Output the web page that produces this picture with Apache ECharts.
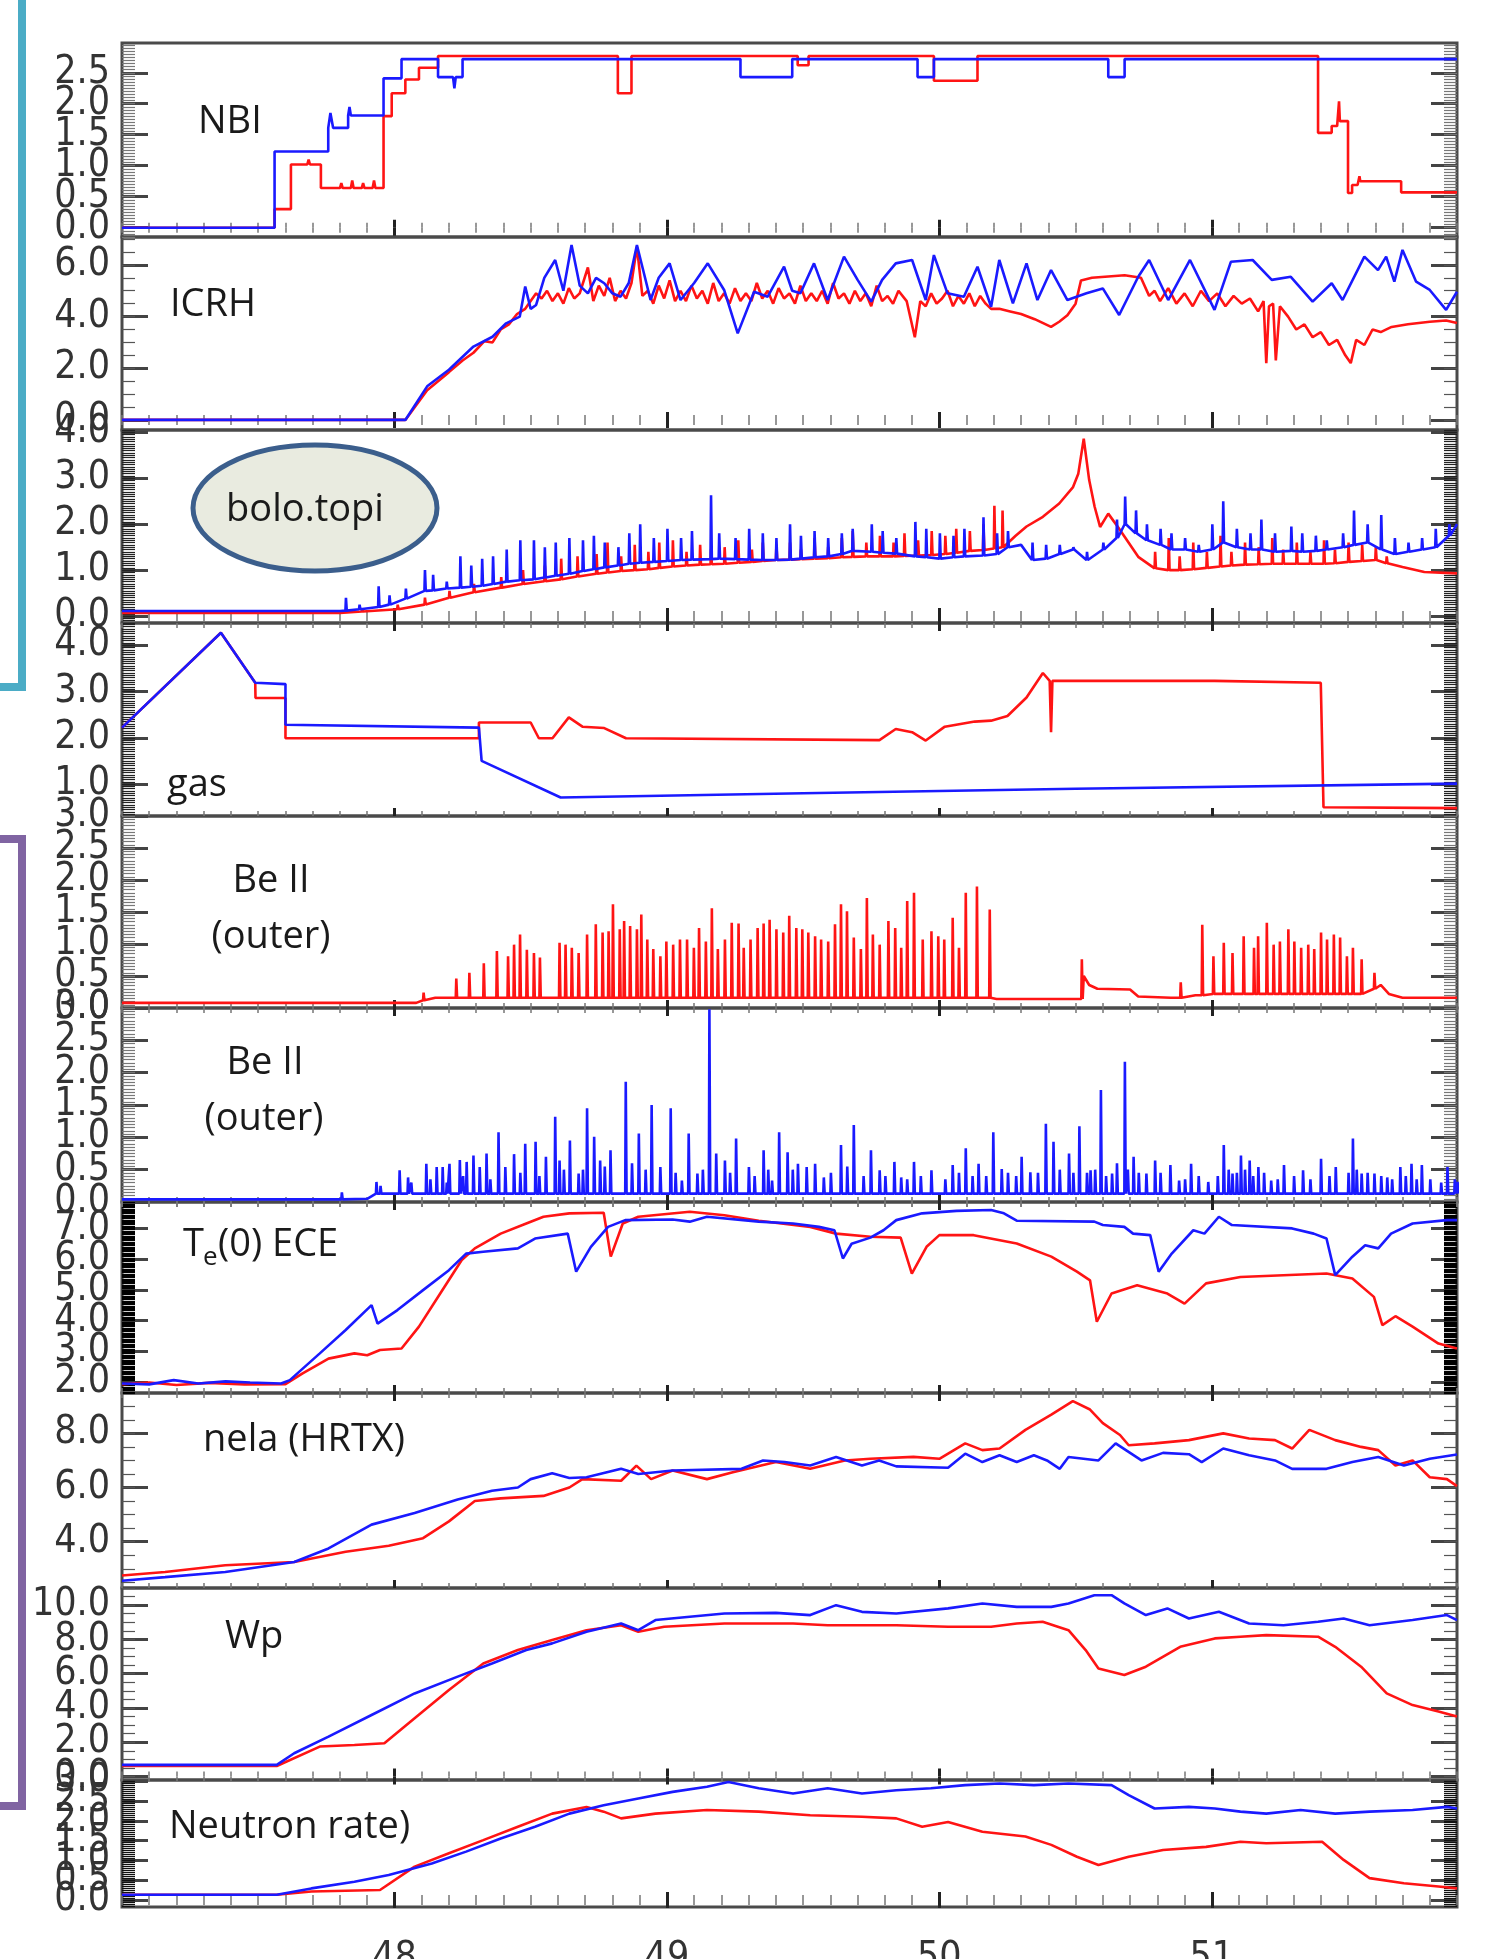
<!DOCTYPE html>
<html>
<head>
<meta charset="UTF-8">
<title>Discharge traces</title>
<script src="https://cdn.jsdelivr.net/npm/echarts@6/dist/echarts.min.js"></script>
<style>html,body{margin:0;padding:0;background:#fff;overflow:hidden;}</style>
</head>
<body>
<!-- drawn a bit taller than the window so the time labels get cut at the bottom edge -->
<div id="main" style="width:1492px;height:2000px;"></div>
<script>
// time axis (s)
var tMin = 47.0, tMax = 51.9;
var timeTicks = [48, 49, 50, 51];

// NBI power
var nbiRed = [[47.0,0],[47.56,0],[47.56,0.30],[47.62,0.30],[47.62,1.02],[47.68,1.02],[47.685,1.10],[47.69,1.02],[47.73,1.02],[47.73,0.64],[47.80,0.64],[47.805,0.72],[47.81,0.64],[47.84,0.64],[47.845,0.76],[47.85,0.64],[47.88,0.64],[47.885,0.72],[47.89,0.64],[47.92,0.64],[47.925,0.76],[47.93,0.64],[47.96,0.64],[47.96,1.80],[47.99,1.80],[47.99,2.17],[48.04,2.17],[48.04,2.39],[48.09,2.39],[48.09,2.58],[48.16,2.58],[48.16,2.77],[48.82,2.77],[48.82,2.17],[48.87,2.17],[48.87,2.77],[49.48,2.77],[49.48,2.62],[49.52,2.62],[49.52,2.77],[49.98,2.77],[49.98,2.37],[50.14,2.37],[50.14,2.77],[51.39,2.77],[51.39,1.53],[51.44,1.53],[51.44,1.64],[51.46,1.64],[51.467,2.04],[51.47,1.72],[51.50,1.72],[51.50,0.56],[51.515,0.56],[51.515,0.69],[51.535,0.69],[51.542,0.83],[51.545,0.75],[51.695,0.75],[51.695,0.57],[51.9,0.57]];
var nbiBlue = [[47.0,0],[47.56,0],[47.56,1.23],[47.757,1.23],[47.757,1.61],[47.765,1.85],[47.775,1.61],[47.83,1.61],[47.83,1.81],[47.835,1.95],[47.84,1.81],[47.96,1.81],[47.96,2.41],[48.026,2.41],[48.026,2.72],[48.16,2.72],[48.16,2.43],[48.215,2.43],[48.22,2.25],[48.225,2.43],[48.25,2.43],[48.25,2.72],[49.27,2.72],[49.27,2.43],[49.46,2.43],[49.46,2.72],[49.92,2.72],[49.92,2.43],[49.98,2.43],[49.98,2.72],[50.62,2.72],[50.62,2.43],[50.68,2.43],[50.68,2.72],[51.9,2.72]];

// ICRH power
var icrhRed = [[47.0,0],[48.04,0],[48.12,1.15],[48.20,1.85],[48.25,2.3],[48.29,2.6],[48.33,3.05],[48.36,3.0],[48.39,3.5],[48.42,3.7],[48.45,4.1],[48.48,4.3],[48.50,4.6],[48.52,4.9],[48.54,4.7],[48.56,5.0],[48.58,4.6],[48.60,4.9],[48.62,4.5],[48.64,5.1],[48.66,4.7],[48.68,4.9],[48.71,5.9],[48.73,4.6],[48.75,5.2],[48.77,4.8],[48.79,5.5],[48.81,4.6],[48.83,5.0],[48.85,4.7],[48.87,5.3],[48.89,6.7],[48.91,4.8],[48.93,5.0],[48.95,4.5],[48.97,5.2],[48.99,4.7],[49.01,5.4],[49.03,4.6],[49.05,5.0],[49.07,4.6],[49.09,5.2],[49.11,4.7],[49.13,5.0],[49.15,4.5],[49.17,5.3],[49.19,4.6],[49.21,4.9],[49.23,4.5],[49.25,5.1],[49.27,4.6],[49.29,4.9],[49.31,4.6],[49.33,5.3],[49.35,4.7],[49.37,5.0],[49.39,4.5],[49.41,5.1],[49.43,4.7],[49.45,4.9],[49.47,4.5],[49.49,5.2],[49.51,4.6],[49.53,4.9],[49.55,4.6],[49.57,5.0],[49.59,4.5],[49.61,5.3],[49.63,4.7],[49.65,4.9],[49.67,4.5],[49.69,5.0],[49.71,4.6],[49.73,4.9],[49.75,4.4],[49.77,5.2],[49.79,4.6],[49.81,4.8],[49.83,4.5],[49.85,5.0],[49.88,4.6],[49.91,3.2],[49.93,4.6],[49.95,4.4],[49.97,4.9],[49.99,4.5],[50.01,4.7],[50.03,5.0],[50.05,4.4],[50.07,4.8],[50.09,4.5],[50.11,4.9],[50.13,4.4],[50.15,4.8],[50.17,4.5],[50.19,4.3],[50.22,4.3],[50.26,4.2],[50.30,4.1],[50.35,3.9],[50.41,3.6],[50.44,3.8],[50.47,4.05],[50.50,4.5],[50.52,5.4],[50.56,5.5],[50.62,5.55],[50.68,5.6],[50.74,5.5],[50.77,4.8],[50.79,5.0],[50.81,4.6],[50.84,5.1],[50.87,4.5],[50.90,4.9],[50.93,4.4],[50.96,5.0],[50.99,4.6],[51.02,4.9],[51.05,4.4],[51.08,4.8],[51.11,4.5],[51.14,4.7],[51.17,4.2],[51.19,4.6],[51.20,2.2],[51.21,4.4],[51.225,4.5],[51.235,2.3],[51.25,4.4],[51.28,4.0],[51.31,3.5],[51.34,3.7],[51.37,3.2],[51.40,3.4],[51.43,2.9],[51.46,3.1],[51.49,2.5],[51.51,2.2],[51.53,3.1],[51.56,2.9],[51.59,3.5],[51.62,3.4],[51.66,3.6],[51.72,3.7],[51.80,3.8],[51.86,3.85],[51.9,3.75]];
var icrhBlue = [[47.0,0],[48.04,0],[48.12,1.3],[48.20,1.94],[48.29,2.84],[48.36,3.22],[48.41,3.74],[48.46,4.0],[48.48,5.16],[48.50,4.3],[48.52,4.45],[48.55,5.5],[48.59,6.19],[48.62,5.0],[48.65,6.77],[48.68,5.2],[48.71,4.9],[48.74,5.5],[48.77,5.29],[48.80,4.9],[48.83,4.77],[48.86,5.3],[48.89,6.77],[48.94,4.64],[48.97,5.5],[49.01,6.06],[49.05,4.64],[49.10,5.3],[49.15,6.06],[49.21,5.03],[49.26,3.35],[49.32,4.96],[49.37,4.77],[49.43,5.93],[49.46,5.0],[49.49,4.90],[49.54,6.06],[49.59,4.64],[49.65,6.32],[49.70,5.42],[49.75,4.58],[49.79,5.42],[49.84,6.06],[49.90,6.19],[49.95,4.64],[49.98,6.38],[50.03,4.90],[50.09,4.77],[50.14,5.93],[50.19,4.38],[50.22,6.19],[50.27,4.51],[50.32,6.06],[50.36,4.64],[50.41,5.80],[50.47,4.64],[50.54,4.90],[50.60,5.09],[50.66,4.06],[50.73,5.54],[50.77,6.19],[50.84,4.64],[50.92,6.19],[51.01,4.26],[51.07,6.12],[51.15,6.19],[51.22,5.42],[51.29,5.54],[51.37,4.58],[51.44,5.29],[51.48,4.64],[51.56,6.32],[51.61,5.80],[51.64,6.32],[51.67,5.35],[51.70,6.58],[51.75,5.35],[51.80,5.03],[51.86,4.26],[51.9,4.96]];

// bolometer, entries are [time, floor, peak]
var boloRed = [[47.0,0.07,0.07],[47.80,0.07,0.07],[47.88,0.10,0.15],[48.01,0.15,0.25],[48.11,0.25,0.40],[48.20,0.40,0.55],[48.29,0.52,0.70],[48.39,0.62,0.85],[48.47,0.70,1.00],[48.55,0.76,1.10],[48.61,0.80,1.25],[48.67,0.86,1.30],[48.74,0.92,1.35],[48.78,0.95,1.60],[48.83,0.98,1.30],[48.88,1.00,1.55],[48.93,1.02,1.40],[48.97,1.05,1.60],[49.02,1.08,1.65],[49.07,1.10,1.40],[49.12,1.12,1.55],[49.16,1.13,1.45],[49.21,1.14,1.50],[49.26,1.16,1.65],[49.31,1.18,1.45],[49.35,1.20,1.60],[49.40,1.22,1.55],[49.45,1.23,1.60],[49.49,1.24,1.45],[49.54,1.25,1.70],[49.59,1.26,1.50],[49.64,1.28,1.70],[49.68,1.29,1.85],[49.73,1.30,1.60],[49.78,1.30,1.75],[49.83,1.30,1.60],[49.87,1.31,1.80],[49.92,1.32,1.65],[49.97,1.33,1.85],[50.02,1.35,1.75],[50.06,1.38,1.90],[50.11,1.42,1.85],[50.16,1.44,2.00],[50.20,1.47,2.40],[50.23,1.50,2.30],[50.28,1.75,1.75],[50.32,1.95,1.95],[50.38,2.16,2.16],[50.44,2.45,2.45],[50.49,2.80,2.80],[50.51,3.10,3.10],[50.53,3.86,3.86],[50.55,2.96,2.96],[50.57,2.38,2.38],[50.59,1.94,1.94],[50.62,2.23,2.23],[50.66,1.90,1.90],[50.73,1.29,1.29],[50.79,1.04,1.40],[50.84,1.00,1.70],[50.88,1.00,1.30],[50.93,1.02,1.60],[50.98,1.05,1.40],[51.03,1.08,1.75],[51.07,1.10,1.40],[51.12,1.12,1.60],[51.17,1.13,1.50],[51.22,1.14,1.70],[51.26,1.14,1.45],[51.31,1.14,1.60],[51.36,1.14,1.40],[51.41,1.14,1.65],[51.45,1.15,1.45],[51.50,1.18,1.60],[51.55,1.20,1.55],[51.60,1.22,1.50],[51.64,1.15,1.30],[51.70,1.07,1.07],[51.78,0.96,0.96],[51.9,0.93,0.93]];
var boloBlue = [[47.0,0.11,0.11],[47.80,0.11,0.11],[47.82,0.12,0.40],[47.87,0.15,0.25],[47.94,0.20,0.65],[47.98,0.25,0.45],[48.04,0.38,0.60],[48.11,0.55,1.00],[48.14,0.56,0.90],[48.19,0.60,0.75],[48.24,0.62,1.30],[48.28,0.64,1.10],[48.32,0.66,1.25],[48.36,0.70,1.30],[48.41,0.75,1.45],[48.46,0.78,1.65],[48.51,0.80,1.65],[48.55,0.84,1.50],[48.59,0.88,1.60],[48.64,0.92,1.70],[48.69,0.98,1.65],[48.73,1.02,1.75],[48.77,1.06,1.60],[48.82,1.10,1.50],[48.86,1.14,1.80],[48.90,1.16,2.00],[48.95,1.18,1.70],[49.00,1.20,1.90],[49.05,1.22,1.70],[49.09,1.23,1.85],[49.16,1.24,2.63],[49.19,1.25,1.80],[49.25,1.24,1.70],[49.30,1.23,1.90],[49.35,1.22,1.80],[49.40,1.22,1.70],[49.45,1.23,2.00],[49.49,1.25,1.75],[49.54,1.28,1.85],[49.59,1.30,1.70],[49.64,1.35,1.80],[49.68,1.42,1.90],[49.75,1.40,2.00],[49.79,1.38,1.85],[49.84,1.36,1.70],[49.91,1.30,2.05],[49.95,1.28,1.90],[50.00,1.25,1.80],[50.05,1.28,1.75],[50.09,1.30,1.90],[50.16,1.32,2.15],[50.21,1.35,1.80],[50.25,1.50,1.85],[50.30,1.55,1.55],[50.34,1.22,1.60],[50.39,1.25,1.55],[50.44,1.35,1.55],[50.49,1.45,1.50],[50.54,1.22,1.40],[50.60,1.45,1.60],[50.65,1.70,2.10],[50.68,2.00,2.60],[50.72,1.80,2.30],[50.76,1.65,2.00],[50.81,1.55,1.90],[50.85,1.45,1.80],[50.90,1.45,1.70],[50.95,1.40,1.55],[51.00,1.45,2.00],[51.04,1.60,2.50],[51.09,1.50,1.90],[51.14,1.45,1.80],[51.18,1.45,2.10],[51.23,1.40,1.80],[51.29,1.42,1.95],[51.33,1.40,1.80],[51.38,1.42,1.75],[51.42,1.45,1.65],[51.48,1.50,1.80],[51.52,1.55,2.30],[51.57,1.60,2.00],[51.62,1.45,2.20],[51.67,1.35,1.70],[51.72,1.40,1.60],[51.77,1.45,1.70],[51.82,1.50,1.90],[51.87,1.75,2.00],[51.9,2.00,2.00]];

// gas injection
var gasRed = [[47.0,2.22],[47.363,4.27],[47.489,3.19],[47.49,2.86],[47.60,2.86],[47.60,1.99],[48.31,1.99],[48.31,2.33],[48.50,2.33],[48.53,1.99],[48.58,1.99],[48.64,2.44],[48.69,2.24],[48.77,2.21],[48.85,1.99],[49.78,1.95],[49.84,2.19],[49.90,2.12],[49.95,1.94],[50.02,2.24],[50.13,2.35],[50.19,2.37],[50.25,2.47],[50.32,2.87],[50.38,3.40],[50.405,3.23],[50.41,2.12],[50.415,3.23],[51.01,3.23],[51.01,3.19],[51.40,3.19],[51.41,0.50],[51.9,0.48]];
var gasBlue = [[47.0,2.22],[47.363,4.27],[47.489,3.19],[47.60,3.16],[47.60,2.28],[48.31,2.22],[48.32,1.50],[48.61,0.71],[49.50,0.80],[50.50,0.90],[51.9,1.01]];

// Be II outer, entries are [time, floor, peak]
var beRed = [[47.00,0.08,0.08],[48.08,0.08,0.08],[48.105,0.12,0.24],[48.15,0.16,0.16],[48.225,0.16,0.46],[48.273,0.16,0.55],[48.326,0.16,0.70],[48.374,0.16,0.89],[48.415,0.16,0.81],[48.437,0.16,0.99],[48.459,0.16,1.15],[48.484,0.16,0.91],[48.510,0.16,0.86],[48.532,0.16,0.79],[48.56,0.16,0.16],[48.604,0.16,1.02],[48.626,0.16,0.99],[48.649,0.16,0.94],[48.674,0.16,0.86],[48.705,0.16,1.15],[48.737,0.16,1.31],[48.762,0.16,1.18],[48.784,0.16,1.20],[48.800,0.16,1.62],[48.825,0.16,1.23],[48.841,0.16,1.36],[48.863,0.16,1.28],[48.888,0.16,1.23],[48.904,0.16,1.46],[48.926,0.16,1.07],[48.948,0.16,0.92],[48.974,0.16,0.81],[48.996,0.16,1.04],[49.021,0.16,0.99],[49.046,0.16,1.07],[49.072,0.16,1.07],[49.097,0.16,0.94],[49.116,0.16,1.25],[49.141,0.16,1.04],[49.163,0.16,1.56],[49.185,0.16,0.92],[49.211,0.16,1.07],[49.236,0.16,1.33],[49.261,0.16,1.32],[49.280,0.16,0.94],[49.305,0.16,1.07],[49.331,0.16,1.25],[49.353,0.16,1.32],[49.375,0.16,1.38],[49.400,0.16,1.23],[49.425,0.16,1.18],[49.447,0.16,1.44],[49.473,0.16,1.25],[49.495,0.16,1.23],[49.517,0.16,1.18],[49.542,0.16,1.12],[49.564,0.16,1.07],[49.590,0.16,1.04],[49.615,0.16,1.31],[49.637,0.16,1.62],[49.659,0.16,1.51],[49.684,0.16,1.10],[49.710,0.16,0.92],[49.732,0.16,1.72],[49.754,0.16,1.15],[49.779,0.16,0.99],[49.811,0.16,1.36],[49.836,0.16,1.25],[49.858,0.16,0.94],[49.880,0.16,1.67],[49.905,0.16,1.80],[49.937,0.16,1.07],[49.969,0.16,1.20],[49.994,0.16,1.12],[50.016,0.16,1.07],[50.047,0.16,1.41],[50.070,0.16,0.94],[50.095,0.16,1.80],[50.136,0.16,1.90],[50.183,0.16,1.54],[50.21,0.14,0.14],[50.50,0.14,0.14],[50.521,0.14,0.76],[50.53,0.50,0.50],[50.55,0.36,0.36],[50.58,0.30,0.30],[50.70,0.29,0.29],[50.73,0.18,0.18],[50.85,0.16,0.16],[50.884,0.16,0.40],[50.94,0.20,0.20],[50.963,0.20,1.30],[51.004,0.22,0.81],[51.042,0.22,1.02],[51.074,0.22,0.86],[51.115,0.22,1.12],[51.153,0.22,0.94],[51.168,0.22,1.12],[51.200,0.22,1.33],[51.225,0.22,0.99],[51.248,0.22,1.04],[51.279,0.22,1.23],[51.301,0.22,1.04],[51.326,0.22,0.94],[51.352,0.22,0.99],[51.374,0.22,0.92],[51.399,0.22,1.18],[51.421,0.22,1.07],[51.446,0.22,1.15],[51.469,0.22,1.10],[51.494,0.22,0.81],[51.516,0.22,0.94],[51.548,0.22,0.76],[51.595,0.30,0.55],[51.62,0.36,0.36],[51.65,0.22,0.22],[51.70,0.16,0.16],[51.9,0.16,0.16]];
var beBlue = [[47.00,0.04,0.04],[47.805,0.04,0.15],[47.90,0.05,0.05],[47.932,0.13,0.31],[47.947,0.13,0.25],[48.017,0.13,0.49],[48.048,0.13,0.38],[48.06,0.13,0.30],[48.115,0.13,0.59],[48.13,0.13,0.35],[48.153,0.13,0.54],[48.175,0.13,0.54],[48.19,0.13,0.30],[48.200,0.13,0.59],[48.238,0.13,0.65],[48.25,0.13,0.40],[48.263,0.13,0.62],[48.288,0.13,0.72],[48.311,0.13,0.54],[48.336,0.13,0.75],[48.35,0.13,0.35],[48.380,0.13,1.08],[48.405,0.13,0.54],[48.437,0.13,0.74],[48.46,0.13,0.45],[48.478,0.13,0.90],[48.516,0.13,0.93],[48.53,0.13,0.40],[48.554,0.13,0.70],[48.588,0.13,1.32],[48.604,0.13,0.64],[48.62,0.13,0.50],[48.642,0.13,0.95],[48.674,0.13,0.44],[48.69,0.13,0.50],[48.705,0.13,1.45],[48.731,0.13,1.01],[48.753,0.13,0.64],[48.77,0.13,0.55],[48.791,0.13,0.80],[48.847,0.13,1.86],[48.87,0.13,0.60],[48.895,0.13,1.06],[48.92,0.13,0.50],[48.942,0.13,1.50],[48.974,0.13,0.54],[49.012,0.13,1.45],[49.03,0.13,0.45],[49.053,0.13,0.33],[49.078,0.13,1.06],[49.110,0.13,0.44],[49.13,0.13,0.50],[49.154,0.13,2.98],[49.179,0.13,0.75],[49.211,0.13,0.64],[49.23,0.13,0.45],[49.252,0.13,0.98],[49.299,0.13,0.54],[49.32,0.13,0.40],[49.353,0.13,0.80],[49.37,0.13,0.50],[49.384,0.13,0.33],[49.410,0.13,1.08],[49.441,0.13,0.77],[49.46,0.13,0.50],[49.479,0.13,0.59],[49.511,0.13,0.54],[49.542,0.13,0.59],[49.574,0.13,0.38],[49.60,0.13,0.45],[49.637,0.13,0.88],[49.66,0.13,0.55],[49.684,0.13,1.19],[49.72,0.13,0.40],[49.747,0.13,0.80],[49.779,0.13,0.49],[49.80,0.13,0.40],[49.833,0.13,0.62],[49.858,0.13,0.38],[49.88,0.13,0.35],[49.905,0.13,0.62],[49.93,0.13,0.40],[49.969,0.13,0.49],[50.02,0.13,0.35],[50.047,0.13,0.57],[50.07,0.13,0.45],[50.095,0.13,0.83],[50.12,0.13,0.40],[50.142,0.13,0.59],[50.17,0.13,0.40],[50.196,0.13,1.08],[50.227,0.13,0.51],[50.25,0.13,0.45],[50.28,0.13,0.40],[50.300,0.13,0.70],[50.332,0.13,0.46],[50.36,0.13,0.45],[50.389,0.13,1.21],[50.417,0.13,0.93],[50.44,0.13,0.50],[50.474,0.13,0.75],[50.49,0.13,0.45],[50.512,0.13,1.17],[50.54,0.13,0.45],[50.553,0.13,0.49],[50.57,0.13,0.50],[50.591,0.13,1.73],[50.61,0.13,0.40],[50.632,0.13,0.44],[50.65,0.13,0.60],[50.679,0.13,2.17],[50.69,0.13,0.50],[50.711,0.13,0.70],[50.73,0.13,0.45],[50.758,0.13,0.44],[50.790,0.13,0.64],[50.81,0.13,0.45],[50.846,0.13,0.57],[50.878,0.13,0.33],[50.90,0.13,0.35],[50.922,0.13,0.59],[50.95,0.13,0.40],[50.985,0.13,0.31],[51.02,0.13,0.40],[51.042,0.13,0.88],[51.06,0.13,0.50],[51.074,0.13,0.44],[51.09,0.13,0.45],[51.105,0.13,0.72],[51.12,0.13,0.50],[51.137,0.13,0.64],[51.15,0.13,0.40],[51.169,0.13,0.54],[51.19,0.13,0.45],[51.216,0.13,0.33],[51.24,0.13,0.35],[51.263,0.13,0.57],[51.30,0.13,0.40],[51.333,0.13,0.49],[51.36,0.13,0.35],[51.399,0.13,0.67],[51.43,0.13,0.40],[51.453,0.13,0.54],[51.50,0.13,0.45],[51.516,0.13,0.98],[51.53,0.13,0.50],[51.548,0.13,0.44],[51.57,0.13,0.45],[51.595,0.13,0.44],[51.62,0.13,0.40],[51.642,0.13,0.38],[51.66,0.13,0.35],[51.690,0.13,0.54],[51.71,0.13,0.40],[51.731,0.13,0.59],[51.75,0.13,0.35],[51.769,0.13,0.57],[51.80,0.13,0.35],[51.84,0.13,0.30],[51.863,0.13,0.54],[51.89,0.13,0.35],[51.9,0.13,0.31]];

// Te(0) ECE
var teRed = [[47.0,1.93],[47.10,1.98],[47.20,1.90],[47.32,1.97],[47.45,1.92],[47.60,1.93],[47.663,2.28],[47.758,2.76],[47.853,2.93],[47.900,2.87],[47.947,3.04],[48.026,3.09],[48.090,3.80],[48.168,4.88],[48.247,5.97],[48.295,6.35],[48.390,6.83],[48.484,7.16],[48.547,7.38],[48.642,7.49],[48.768,7.51],[48.794,6.08],[48.838,7.16],[48.895,7.38],[49.084,7.54],[49.211,7.43],[49.337,7.25],[49.526,7.05],[49.621,6.83],[49.747,6.73],[49.858,6.70],[49.899,5.53],[49.953,6.40],[50.000,6.78],[50.126,6.78],[50.284,6.51],[50.411,6.08],[50.505,5.59],[50.553,5.31],[50.578,3.96],[50.632,4.88],[50.726,5.15],[50.837,4.88],[50.900,4.55],[50.979,5.21],[51.105,5.42],[51.421,5.53],[51.516,5.37],[51.595,4.77],[51.626,3.85],[51.674,4.14],[51.737,3.80],[51.832,3.25],[51.9,3.09]];
var teBlue = [[47.0,1.95],[47.10,1.92],[47.19,2.06],[47.28,1.95],[47.38,2.02],[47.47,1.98],[47.584,1.95],[47.616,2.06],[47.726,2.93],[47.821,3.69],[47.916,4.50],[47.938,3.90],[48.011,4.34],[48.105,4.99],[48.200,5.64],[48.263,6.18],[48.326,6.24],[48.453,6.35],[48.516,6.67],[48.636,6.83],[48.667,5.59],[48.721,6.40],[48.784,7.05],[48.847,7.27],[49.021,7.29],[49.084,7.22],[49.147,7.38],[49.337,7.22],[49.463,7.16],[49.558,7.05],[49.615,6.94],[49.646,6.02],[49.678,6.50],[49.747,6.70],[49.795,6.94],[49.842,7.27],[49.937,7.49],[50.063,7.57],[50.190,7.60],[50.237,7.49],[50.284,7.25],[50.569,7.22],[50.600,7.11],[50.679,7.05],[50.711,6.83],[50.774,6.78],[50.805,5.59],[50.853,6.18],[50.932,6.94],[50.973,6.83],[51.026,7.38],[51.074,7.11],[51.295,7.00],[51.374,6.83],[51.421,6.67],[51.453,5.48],[51.516,6.08],[51.563,6.45],[51.611,6.35],[51.658,6.83],[51.737,7.16],[51.863,7.27],[51.9,7.27]];

// line-averaged density
var nelaRed = [[47.0,2.75],[47.158,2.88],[47.379,3.13],[47.632,3.25],[47.821,3.63],[47.979,3.85],[48.105,4.13],[48.200,4.75],[48.295,5.50],[48.390,5.60],[48.547,5.69],[48.642,6.00],[48.690,6.31],[48.832,6.25],[48.888,6.81],[48.942,6.31],[49.021,6.63],[49.147,6.31],[49.242,6.56],[49.400,6.94],[49.526,6.69],[49.653,7.00],[49.747,7.06],[49.905,7.13],[50.000,7.06],[50.095,7.63],[50.158,7.38],[50.221,7.44],[50.316,8.13],[50.411,8.69],[50.490,9.19],[50.553,8.88],[50.600,8.38],[50.663,7.94],[50.695,7.56],[50.790,7.63],[50.916,7.75],[51.042,8.00],[51.137,7.81],[51.232,7.75],[51.295,7.44],[51.358,8.13],[51.453,7.75],[51.548,7.50],[51.611,7.38],[51.674,6.81],[51.737,7.00],[51.800,6.38],[51.863,6.31],[51.9,6.05]];
var nelaBlue = [[47.0,2.56],[47.158,2.69],[47.379,2.88],[47.632,3.25],[47.758,3.75],[47.916,4.63],[48.074,5.06],[48.232,5.56],[48.358,5.88],[48.453,6.00],[48.500,6.31],[48.579,6.53],[48.642,6.35],[48.705,6.38],[48.832,6.69],[48.895,6.50],[49.021,6.63],[49.274,6.69],[49.353,7.00],[49.432,6.94],[49.526,6.81],[49.621,7.13],[49.716,6.81],[49.779,7.00],[49.842,6.78],[50.032,6.73],[50.095,7.25],[50.158,6.94],[50.221,7.19],[50.284,6.94],[50.347,7.19],[50.395,7.00],[50.442,6.69],[50.474,7.13],[50.584,7.00],[50.647,7.63],[50.742,7.00],[50.821,7.28],[50.916,7.23],[50.963,6.94],[51.042,7.44],[51.137,7.19],[51.232,7.00],[51.295,6.69],[51.421,6.69],[51.516,6.94],[51.611,7.13],[51.705,6.81],[51.800,7.06],[51.9,7.22]];

// stored energy
var wpRed = [[47.0,0.62],[47.568,0.62],[47.726,1.75],[47.853,1.84],[47.963,1.94],[48.074,3.40],[48.200,5.05],[48.326,6.60],[48.453,7.38],[48.579,7.96],[48.705,8.54],[48.832,8.83],[48.895,8.45],[48.990,8.74],[49.211,8.93],[49.463,8.93],[49.590,8.83],[49.842,8.83],[50.032,8.74],[50.190,8.74],[50.284,8.93],[50.379,9.03],[50.474,8.54],[50.537,7.38],[50.584,6.31],[50.679,5.92],[50.758,6.41],[50.884,7.57],[51.011,8.06],[51.105,8.16],[51.200,8.25],[51.390,8.16],[51.453,7.57],[51.548,6.41],[51.642,4.85],[51.737,4.17],[51.832,3.79],[51.9,3.50]];
var wpBlue = [[47.0,0.68],[47.568,0.68],[47.632,1.36],[47.758,2.33],[47.916,3.59],[48.074,4.85],[48.232,5.83],[48.358,6.60],[48.484,7.38],[48.579,7.77],[48.705,8.45],[48.832,8.93],[48.895,8.54],[48.958,9.13],[49.084,9.32],[49.211,9.51],[49.400,9.55],[49.526,9.42],[49.621,10.0],[49.716,9.61],[49.842,9.51],[50.032,9.81],[50.158,10.1],[50.284,9.90],[50.411,9.90],[50.474,10.1],[50.569,10.58],[50.632,10.58],[50.679,10.1],[50.758,9.42],[50.837,9.81],[50.916,9.22],[51.026,9.61],[51.137,8.93],[51.263,8.83],[51.390,9.03],[51.484,9.22],[51.579,8.83],[51.737,9.13],[51.863,9.42],[51.9,9.13]];

// neutron rate
var neutRed = [[47.0,0.13],[47.568,0.13],[47.695,0.21],[47.947,0.25],[48.074,0.84],[48.200,1.18],[48.326,1.51],[48.453,1.85],[48.579,2.18],[48.705,2.35],[48.768,2.23],[48.832,2.06],[48.958,2.18],[49.147,2.27],[49.337,2.23],[49.526,2.14],[49.716,2.10],[49.842,2.06],[49.937,1.85],[50.032,1.97],[50.158,1.72],[50.316,1.60],[50.411,1.39],[50.505,1.09],[50.584,0.88],[50.695,1.09],[50.821,1.26],[50.979,1.34],[51.105,1.47],[51.200,1.43],[51.405,1.47],[51.484,1.01],[51.579,0.55],[51.705,0.42],[51.832,0.34],[51.9,0.29]];
var neutBlue = [[47.0,0.13],[47.568,0.13],[47.695,0.29],[47.853,0.46],[47.979,0.63],[48.137,0.92],[48.263,1.22],[48.390,1.55],[48.516,1.85],[48.642,2.18],[48.768,2.39],[48.895,2.56],[49.021,2.73],[49.147,2.86],[49.226,2.98],[49.337,2.82],[49.463,2.69],[49.590,2.82],[49.716,2.69],[49.842,2.77],[49.969,2.82],[50.095,2.90],[50.221,2.94],[50.347,2.90],[50.474,2.94],[50.632,2.90],[50.695,2.65],[50.790,2.31],[50.916,2.35],[51.011,2.31],[51.105,2.23],[51.200,2.18],[51.326,2.27],[51.453,2.18],[51.579,2.23],[51.737,2.27],[51.863,2.35],[51.9,2.31]];

// turn [time, floor, peak] triples into a spiky trace
function spikes(list) {
    var out = [];
    list.forEach(function (s) {
        out.push([s[0], s[1]]);
        if (s[2] > s[1]) {
            out.push([s[0] + 0.002, s[2]]);
            out.push([s[0] + 0.005, s[1]]);
        }
    });
    return out;
}
function steps(a, b, d) {
    var out = [];
    for (var k = Math.ceil(a / d - 1e-6); k * d <= b + 1e-6; k++) out.push(+(k * d).toFixed(3));
    return out;
}

var RED = '#ff1414', BLUE = '#1a1aff';
var panels = [
    {top: 43, bottom: 237, min: -0.15, max: 2.98, major: 0.5, minor: 0.05, minorColor: '#777', traces: [[nbiRed, RED], [nbiBlue, BLUE]]},
    {top: 237, bottom: 430, min: -0.39, max: 7.08, major: 2, minor: 0.5, minorColor: '#555', traces: [[icrhRed, RED], [icrhBlue, BLUE]]},
    {top: 430, bottom: 623, min: -0.15, max: 4.05, major: 1, minor: 0.05, minorColor: '#222', traces: [[spikes(boloRed), RED], [spikes(boloBlue), BLUE]]},
    {top: 623, bottom: 816, min: 0.31, max: 4.48, major: 1, minor: 0.05, minorColor: '#222', traces: [[gasRed, RED], [gasBlue, BLUE]]},
    {top: 816, bottom: 1008, min: 0, max: 3.0, major: 0.5, minor: 0.05, minorColor: '#777', traces: [[spikes(beRed), RED]]},
    {top: 1008, bottom: 1202, min: 0, max: 3.0, major: 0.5, minor: 0.05, minorColor: '#777', traces: [[spikes(beBlue), BLUE]]},
    {top: 1202, bottom: 1393, min: 1.64, max: 7.86, major: 1, minor: 0.04, minorColor: '#000', traces: [[teRed, RED], [teBlue, BLUE]]},
    {top: 1393, bottom: 1588, min: 2.29, max: 9.49, major: 2, minor: 0.5, minorColor: '#555', traces: [[nelaRed, RED], [nelaBlue, BLUE]]},
    {top: 1588, bottom: 1780, min: -0.2, max: 11.0, major: 2, minor: 0.5, minorColor: '#555', traces: [[wpRed, RED], [wpBlue, BLUE]]},
    {top: 1780, bottom: 1907, min: -0.18, max: 3.03, major: 0.5, minor: 0.05, minorColor: '#111', traces: [[neutRed, RED], [neutBlue, BLUE]]}
];

var numFont = "'Liberation Sans Narrow','DejaVu Sans Condensed',sans-serif";
var txtFont = "'Open Sans','Noto Sans',sans-serif";
var xMinor = steps(tMin, tMax, 0.1);
var grids = [], xAxes = [], yAxes = [], series = [];
var Y_PER_GRID = 7;

panels.forEach(function (p, i) {
    var last = i === panels.length - 1;
    var majors = steps(Math.max(p.min, 0), p.max, p.major);
    var minors = steps(p.min, p.max, p.minor);
    grids.push({left: 122, right: 35, top: p.top, height: p.bottom - p.top,
        show: true, borderColor: '#4a4a4a', borderWidth: 3});

    function xa(pos, vals, len, w, color, label) {
        return {gridIndex: i, type: 'value', min: tMin, max: tMax, position: pos,
            axisLine: {show: false}, splitLine: {show: false},
            axisTick: {show: true, inside: true, length: len, customValues: vals, lineStyle: {color: color, width: w}},
            axisLabel: label || {show: false}};
    }
    xAxes.push(xa('bottom', xMinor, 5, 1.5, '#777'));
    xAxes.push(xa('bottom', timeTicks, 8, 3, '#222', last ? {
        show: true, customValues: timeTicks, margin: 32, color: '#333',
        fontSize: 39, fontFamily: numFont} : null));
    xAxes.push(xa('top', xMinor, 5, 1.5, '#777'));
    xAxes.push(xa('top', timeTicks, 8, 3, '#222'));

    function ya(pos, vals, len, w, color, label) {
        return {gridIndex: i, type: 'value', min: p.min, max: p.max, position: pos,
            axisLine: {show: false}, splitLine: {show: false},
            axisTick: {show: len > 0, inside: true, length: len, customValues: vals, lineStyle: {color: color, width: w}},
            axisLabel: label || {show: false}};
    }
    yAxes.push(ya('left', majors, 26, 3, '#444'));
    yAxes.push(ya('left', minors, 13, 1.2, p.minorColor));
    yAxes.push(ya('right', majors, 26, 3, '#444'));
    yAxes.push(ya('right', minors, 13, 1.2, p.minorColor));
    // labels are tall and close together, so spread them over three axes
    // so none of them is dropped as an overlap
    [0, 1, 2].forEach(function (g) {
        var vals = majors.filter(function (v, k) { return k % 3 === g; });
        yAxes.push(ya('left', vals, 0, 0, '#444', {
            show: true, customValues: vals, margin: 12, color: '#333',
            showMinLabel: true, showMaxLabel: true, hideOverlap: false,
            fontSize: 39, fontFamily: numFont,
            formatter: function (v) { return v.toFixed(1); }}));
    });

    p.traces.forEach(function (tr) {
        series.push({type: 'line', xAxisIndex: 4 * i, yAxisIndex: Y_PER_GRID * i, data: tr[0],
            showSymbol: false, clip: true, lineStyle: {color: tr[1], width: 2.6}});
    });
});

function label(text, x, y, align) {
    return {type: 'text', x: x, y: y, z: 100, style: {text: text, font: '38px ' + txtFont,
        fill: '#1a1a1a', align: align || 'left', verticalAlign: 'middle'}};
}

var chart = echarts.init(document.getElementById('main'), null, {renderer: 'canvas'});
chart.setOption({
    animation: false,
    backgroundColor: '#ffffff',
    grid: grids,
    xAxis: xAxes,
    yAxis: yAxes,
    series: series,
    graphic: [
        {type: 'rect', shape: {x: 18, y: 0, width: 8, height: 691}, style: {fill: '#4bacc6'}},
        {type: 'rect', shape: {x: 0, y: 683, width: 26, height: 8}, style: {fill: '#4bacc6'}},
        {type: 'rect', shape: {x: 0, y: 835, width: 26, height: 8}, style: {fill: '#8064a2'}},
        {type: 'rect', shape: {x: 18, y: 835, width: 8, height: 975}, style: {fill: '#8064a2'}},
        {type: 'rect', shape: {x: 0, y: 1802, width: 26, height: 8}, style: {fill: '#8064a2'}},
        {type: 'ellipse', shape: {cx: 315, cy: 508, rx: 122, ry: 63}, z: 90,
            style: {fill: '#e9ebe0', stroke: '#3b5e8c', lineWidth: 5}},
        label('NBI', 198, 122),
        label('ICRH', 170, 305),
        label('bolo.topi', 305, 510, 'center'),
        label('gas', 167, 785),
        label('Be II', 271, 881, 'center'),
        label('(outer)', 271, 937, 'center'),
        label('Be II', 265, 1063, 'center'),
        label('(outer)', 264, 1119, 'center'),
        label('T', 183, 1245),
        {type: 'text', x: 203, y: 1258, z: 100, style: {text: 'e', font: '26px ' + txtFont, fill: '#1a1a1a', verticalAlign: 'middle'}},
        label('(0) ECE', 218, 1245),
        label('nela (HRTX)', 203, 1440),
        label('Wp', 225, 1637),
        label('Neutron rate)', 169, 1827)
    ]
});
</script>
</body>
</html>
